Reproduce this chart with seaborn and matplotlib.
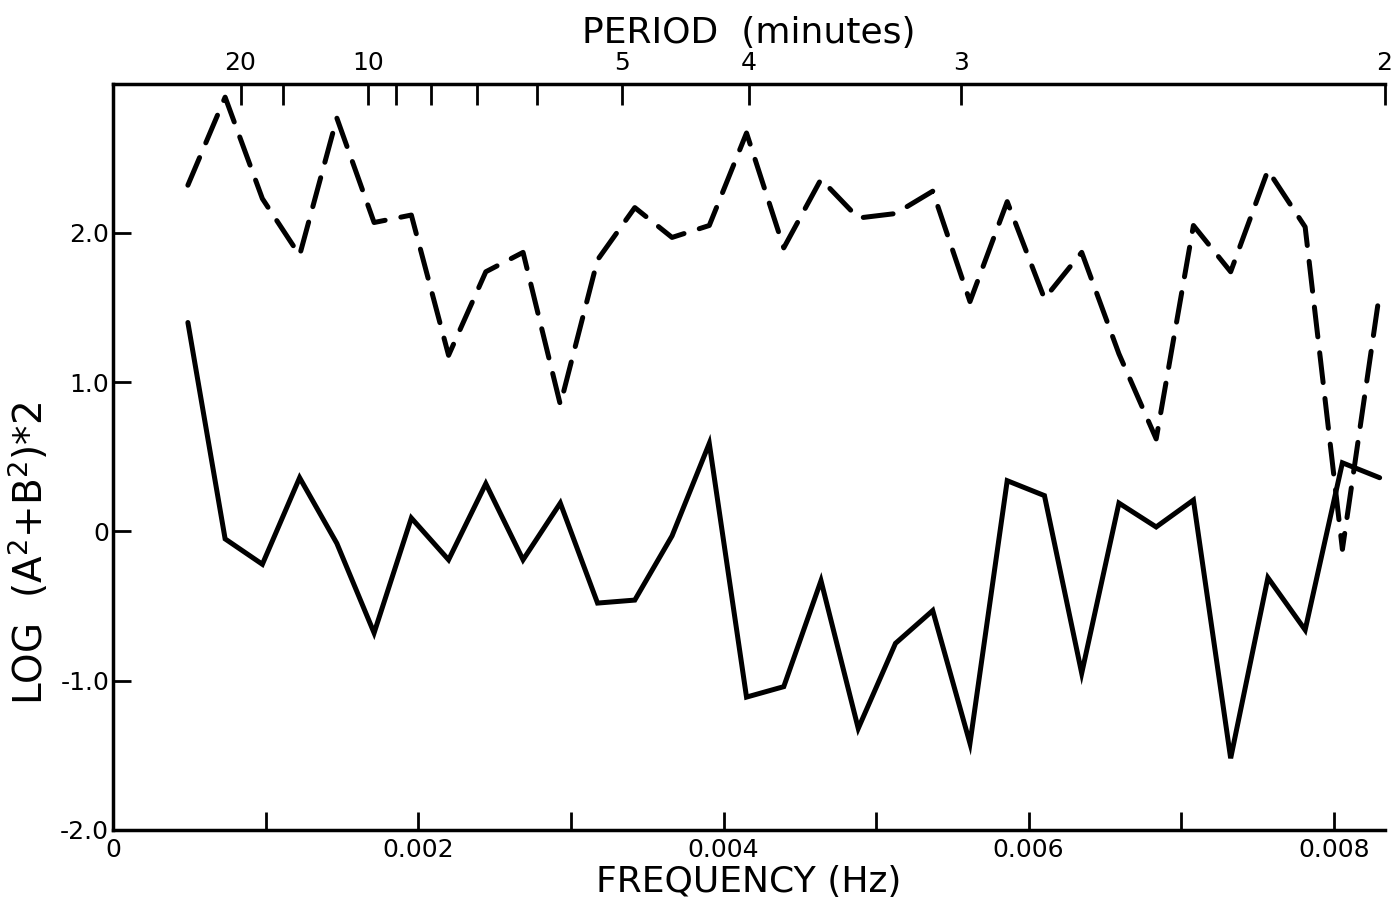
import matplotlib
matplotlib.use("Agg")
import matplotlib.pyplot as plt
import seaborn as sns
import pandas as pd
import numpy as np

# harmonic numbers of the spectrum (record length 4096 s)
harmonic = list(range(2, 35))
record_seconds = 4096

# log power, dashed (upper) series
log_power_dashed = [2.32, 2.91, 2.23, 1.85, 2.77, 2.07, 2.12, 1.18, 1.74, 1.87,
                    0.85, 1.82, 2.17, 1.97, 2.05, 2.67, 1.90, 2.36, 2.10, 2.13,
                    2.28, 1.54, 2.21, 1.56, 1.87, 1.19, 0.62, 2.05, 1.74, 2.42,
                    2.04, -0.12, 1.60]

# log power, solid (lower) series
log_power_solid = [1.40, -0.05, -0.22, 0.36, -0.08, -0.68, 0.09, -0.19, 0.32, -0.19,
                   0.19, -0.48, -0.46, -0.03, 0.59, -1.11, -1.04, -0.33, -1.32, -0.75,
                   -0.53, -1.42, 0.34, 0.24, -0.95, 0.19, 0.03, 0.21, -1.52, -0.31,
                   -0.66, 0.46, 0.36]

# period axis (minutes)
period_ticks = [20, 15, 10, 9, 8, 7, 6, 5, 4, 3, 2]
period_labels = ["20", "", "10", "", "", "", "", "5", "4", "3", "2"]

freq_ticks = [0, 0.001, 0.002, 0.003, 0.004, 0.005, 0.006, 0.007, 0.008]
freq_labels = ["0", "", "0.002", "", "0.004", "", "0.006", "", "0.008"]
y_ticks = [-2, -1, 0, 1, 2]
y_labels = ["-2.0", "-1.0", "0", "1.0", "2.0"]

freq = np.array(harmonic) / record_seconds
df = pd.DataFrame({"freq": freq, "dashed": log_power_dashed, "solid": log_power_solid})

sns.set_style("ticks")
plt.rcParams["font.family"] = ["DejaVu Sans"]
plt.rcParams["axes.unicode_minus"] = False
plt.rcParams["text.color"] = "black"
plt.rcParams["axes.labelcolor"] = "black"

fig = plt.figure(figsize=(14, 9.1), dpi=100)
ax = fig.add_axes([0.081, 0.088, 0.908, 0.820])

sns.lineplot(data=df, x="freq", y="dashed", ax=ax, color="black", lw=3.6,
             linestyle=(0, (6, 3.2)), dash_capstyle="round")
sns.lineplot(data=df, x="freq", y="solid", ax=ax, color="black", lw=3.6,
             solid_joinstyle="miter")

ax.set_xlim(0, 1 / 120)
ax.set_ylim(-2.0, 3.0)
ax.set_xticks(freq_ticks)
ax.set_xticklabels(freq_labels)
ax.set_yticks(y_ticks)
ax.set_yticklabels(y_labels)
ax.tick_params(direction="in", length=13, width=2, labelsize=18, colors="black", pad=6)
ax.tick_params(axis="y", pad=3, labelsize=18)
for s in ["left", "bottom", "top"]:
    ax.spines[s].set_linewidth(2.5)
    ax.spines[s].set_color("black")
ax.spines["right"].set_visible(False)

ax.set_xlabel("FREQUENCY (Hz)", fontsize=26, labelpad=2)
ax.set_ylabel("LOG  (A$^2$+B$^2$)$*$2", fontsize=28)
ax.yaxis.set_label_coords(-0.049, 0.37)

top = ax.twiny()
top.set_xlim(ax.get_xlim())
top.set_xticks([1 / (60 * p) for p in period_ticks])
top.set_xticklabels(period_labels)
top.tick_params(direction="in", length=15, width=2, labelsize=18, colors="black", pad=6)
for s in top.spines.values():
    s.set_visible(False)
top.set_xlabel("PERIOD  (minutes)", fontsize=26, labelpad=6)

fig.savefig("out.png", dpi=100)
